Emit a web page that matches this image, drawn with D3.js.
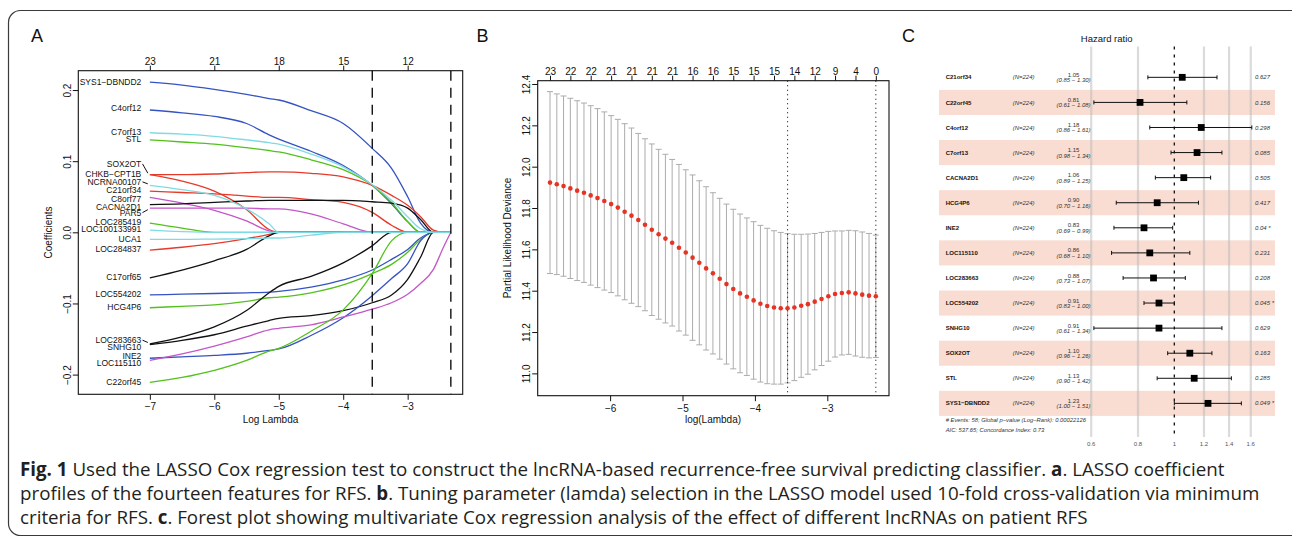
<!DOCTYPE html>
<html>
<head>
<meta charset="utf-8">
<script src="https://cdn.jsdelivr.net/npm/d3@7"></script>
<style>
  body { margin: 0; background: #fff; }
  svg { display: block; }
  text { font-family: "Liberation Sans", Arial, sans-serif; }
</style>
</head>
<body>
<svg id="fig" width="1292" height="537"></svg>
<script>
// ---------- A: LASSO coefficient paths ----------
const coefGrid = [-7, -6.5, -6, -5.5, -5.15, -5, -4.5, -4, -3.55, -3.25, -3, -2.8, -2.6, -2.45, -2.33];
const coefNames = ['SYS1\u2212DBNDD2', 'C4orf12', 'C7orf13', 'STL', 'SOX2OT', 'CHKB\u2212CPT1B',
  'NCRNA00107', 'C21orf34', 'C8orf77', 'CACNA2D1', 'PAR5', 'LOC285419', 'LOC100133991', 'UCA1',
  'LOC284837', 'C17orf65', 'LOC554202', 'HCG4P6', 'LOC283663', 'SNHG10', 'INE2', 'LOC115110', 'C22orf45'];
// where each name sits on the coefficient axis (labels spread out a bit)
const coefLabelAt = [0.2113, 0.1742, 0.1404, 0.1315, 0.0962, 0.0826, 0.0709, 0.0592, 0.0465, 0.0362,
  0.0277, 0.0146, 0.0042, -0.0089, -0.0235, -0.0624, -0.0869, -0.1056, -0.1516, -0.1615, -0.1742, -0.1836, -0.2103];
const coefRows = [
  [0.211, 0.207, 0.201, 0.194, 0.188, 0.186, 0.171, 0.153, 0.118, 0.090, 0.050, 0.013, 0, 0, 0],
  [0.172, 0.168, 0.163, 0.153, 0.137, 0.131, 0.114, 0.094, 0.066, 0.040, 0.015, 0, 0, 0, 0],
  [0.140, 0.138, 0.135, 0.130, 0.126, 0.124, 0.110, 0.092, 0.067, 0.045, 0.022, 0.005, 0, 0, 0],
  [0.130, 0.127, 0.124, 0.119, 0.115, 0.113, 0.102, 0.088, 0.066, 0.042, 0.015, 0, 0, 0, 0],
  [0.081, 0.081, 0.082, 0.084, 0.085, 0.085, 0.083, 0.078, 0.066, 0.052, 0.038, 0.022, 0.003, 0, 0],
  [0.081, 0.072, 0.058, 0.032, 0.004, 0, 0, 0, 0, 0, 0, 0, 0, 0, 0],
  [0.066, 0.060, 0.052, 0.033, 0.012, 0, 0, 0, 0, 0, 0, 0, 0, 0, 0],
  [0.058, 0.056, 0.054, 0.051, 0.049, 0.049, 0.046, 0.042, 0.028, 0.010, 0, 0, 0, 0, 0],
  [0.049, 0.041, 0.031, 0.016, 0.002, 0, 0, 0, 0, 0, 0, 0, 0, 0, 0],
  [0.039, 0.040, 0.042, 0.044, 0.045, 0.045, 0.045, 0.045, 0.043, 0.041, 0.034, 0.018, 0, 0, 0],
  [0.034, 0.034, 0.034, 0.034, 0.033, 0.033, 0.026, 0.012, 0, 0, 0, 0, 0, 0, 0],
  [0.013, 0.006, 0, 0, 0, 0, 0, 0, 0, 0, 0, 0, 0, 0, 0],
  [0.003, 0.001, 0, 0, 0, 0, 0, 0, 0, 0, 0, 0, 0, 0, 0],
  [-0.010, -0.010, -0.0095, -0.009, -0.008, -0.008, -0.004, 0, 0, 0, 0, 0, 0, 0, 0],
  [-0.025, -0.021, -0.016, -0.009, -0.003, 0, 0, 0, 0, 0, 0, 0, 0, 0, 0],
  [-0.064, -0.053, -0.040, -0.024, -0.005, 0, 0, 0, 0, 0, 0, 0, 0, 0, 0],
  [-0.088, -0.087, -0.086, -0.085, -0.084, -0.083, -0.077, -0.067, -0.053, -0.038, -0.024, -0.008, 0, 0, 0],
  [-0.106, -0.104, -0.102, -0.097, -0.092, -0.091, -0.085, -0.074, -0.058, -0.045, -0.028, -0.010, 0, 0, 0],
  [-0.157, -0.147, -0.133, -0.110, -0.085, -0.076, -0.062, -0.043, -0.019, 0, 0, 0, 0, 0, 0],
  [-0.158, -0.152, -0.144, -0.132, -0.124, -0.121, -0.117, -0.110, -0.099, -0.088, -0.066, -0.035, 0, 0, 0],
  [-0.177, -0.175, -0.173, -0.170, -0.166, -0.164, -0.145, -0.120, -0.089, -0.065, -0.044, -0.012, 0, 0, 0],
  [-0.180, -0.171, -0.160, -0.147, -0.137, -0.135, -0.130, -0.119, -0.108, -0.099, -0.087, -0.072, -0.052, -0.022, 0],
  [-0.211, -0.204, -0.194, -0.180, -0.167, -0.163, -0.139, -0.109, -0.058, -0.012, 0, 0, 0, 0, 0],
];
const coefTopAt = [-7, -6, -5, -4, -3];
const coefTopLabels = [23, 21, 18, 15, 12];
const lambdaMin = -3.549, lambda1se = -2.33;

// ---------- B: cross-validation curve ----------
const cvLambda = [-6.830, -6.736, -6.643, -6.549, -6.455, -6.361, -6.268, -6.174, -6.080, -5.986,
  -5.893, -5.799, -5.705, -5.611, -5.518, -5.424, -5.330, -5.236, -5.143, -5.049,
  -4.955, -4.861, -4.768, -4.674, -4.580, -4.486, -4.393, -4.299, -4.205, -4.111,
  -4.018, -3.924, -3.830, -3.736, -3.643, -3.549, -3.455, -3.361, -3.268, -3.174,
  -3.080, -2.986, -2.893, -2.799, -2.705, -2.611, -2.518, -2.424, -2.330];
const cvMean = [11.923, 11.915, 11.906, 11.895, 11.884, 11.874, 11.861, 11.848, 11.834, 11.819,
  11.802, 11.782, 11.763, 11.742, 11.719, 11.695, 11.673, 11.652, 11.632, 11.608,
  11.585, 11.560, 11.535, 11.508, 11.484, 11.458, 11.432, 11.408, 11.387, 11.371,
  11.353, 11.337, 11.326, 11.319, 11.315, 11.315, 11.319, 11.327, 11.335, 11.347,
  11.360, 11.373, 11.384, 11.389, 11.392, 11.387, 11.381, 11.376, 11.373];
const cvSd = [0.440, 0.437, 0.436, 0.436, 0.435, 0.434, 0.434, 0.433, 0.431, 0.428,
  0.427, 0.426, 0.424, 0.419, 0.416, 0.415, 0.411, 0.408, 0.403, 0.403,
  0.400, 0.400, 0.397, 0.395, 0.390, 0.389, 0.387, 0.386, 0.384, 0.381,
  0.381, 0.379, 0.376, 0.371, 0.367, 0.361, 0.354, 0.346, 0.339, 0.330,
  0.322, 0.314, 0.305, 0.300, 0.300, 0.303, 0.303, 0.301, 0.296];
const cvTopLabels = [23, 22, 22, 21, 21, 21, 21, 16, 16, 15, 15, 15, 14, 12, 9, 4, 0]; // every 3rd lambda
const cvYTicks = [11.0, 11.2, 11.4, 11.6, 11.8, 12.0, 12.2, 12.4];

// ---------- C: multivariate Cox forest plot ----------
const hrNames = ['C21orf34', 'C22orf45', 'C4orf12', 'C7orf13', 'CACNA2D1', 'HCG4P6', 'INE2',
  'LOC115110', 'LOC283663', 'LOC554202', 'SNHG10', 'SOX2OT', 'STL', 'SYS1\u2212DBNDD2'];
const hrEst = [1.05, 0.81, 1.18, 1.15, 1.06, 0.90, 0.83, 0.86, 0.88, 0.91, 0.91, 1.10, 1.13, 1.23];
const hrLow = [0.85, 0.61, 0.86, 0.98, 0.89, 0.70, 0.69, 0.68, 0.73, 0.83, 0.61, 0.96, 0.90, 1.00];
const hrHigh = [1.30, 1.08, 1.61, 1.34, 1.25, 1.16, 0.99, 1.10, 1.07, 1.00, 1.34, 1.26, 1.42, 1.51];
const hrP = ['0.627', '0.156', '0.298', '0.085', '0.505', '0.417', '0.04 *', '0.231', '0.208',
  '0.045 *', '0.629', '0.163', '0.285', '0.049 *'];
const hrN = 224;
const hrTicks = [0.6, 0.8, 1, 1.2, 1.4, 1.6];

// ---------- styles ----------
const pal = { black: '#111111', red: '#e63a2a', green: '#52c11c', blue: '#3553c2', cyan: '#7fdbe3', purple: '#c456c8' };
const coefColour = ['blue', 'blue', 'cyan', 'green', 'red', 'red', 'cyan', 'red', 'purple', 'black', 'purple',
  'green', 'cyan', 'cyan', 'red', 'black', 'blue', 'green', 'black', 'black', 'blue', 'purple', 'green'];

const svg = d3.select('#fig');
const fmt = d3.format('d');

// figure frame
svg.append('rect')
  .attr('x', 8.5).attr('y', 10.5)
  .attr('width', 1320).attr('height', 525)
  .attr('rx', 12)
  .attr('fill', 'none').attr('stroke', '#3a3a3a').attr('stroke-width', 1.2);

function panelLetter(x, y, s) {
  svg.append('text').attr('x', x).attr('y', y)
    .style('font-size', '18px').attr('fill', '#111').text(s);
}

// R-ish axis helpers
function bottomAxis(g, scale, ticks, y, format) {
  const a = g.append('g').attr('transform', `translate(0,${y})`)
    .call(d3.axisBottom(scale).tickValues(ticks).tickSize(5.5).tickPadding(3.3).tickFormat(format));
  a.select('.domain').remove();
  a.selectAll('text').style('font-size', '10px').attr('fill', '#111');
  a.selectAll('line').attr('stroke', '#111');
  return a;
}
function topAxis(g, scale, ticks, y, labels) {
  const a = g.append('g').attr('transform', `translate(0,${y})`)
    .call(d3.axisTop(scale).tickValues(ticks).tickSize(5).tickPadding(0.8)
      .tickFormat((d, i) => labels[i]));
  a.select('.domain').remove();
  a.selectAll('text').style('font-size', '10px').attr('fill', '#111');
  a.selectAll('line').attr('stroke', '#111');
  return a;
}
function leftAxis(g, scale, ticks, x, format, gap) {
  const a = g.append('g').attr('transform', `translate(${x},0)`)
    .call(d3.axisLeft(scale).tickValues(ticks).tickSize(5.5).tickFormat(format));
  a.select('.domain').remove();
  a.selectAll('line').attr('stroke', '#111');
  a.selectAll('text')
    .attr('x', null).attr('dy', null)
    .attr('transform', 'rotate(-90)')
    .attr('y', -gap)
    .attr('text-anchor', 'middle')
    .style('font-size', '10px').attr('fill', '#111');
  return a;
}

// ================= Panel A =================
const gA = svg.append('g');
const ax = d3.scaleLinear().domain([-8.11, -2.146]).range([78.3, 462.7]);
const ay = d3.scaleLinear().domain([-0.2277, 0.2272]).range([394.3, 70.7]);

const lineA = d3.line().x(d => ax(d[0])).y(d => ay(d[1])).curve(d3.curveMonotoneX);
// draw cyan ones last so the zero stretch looks like the original
const orderA = d3.range(coefNames.length).sort((i, j) =>
  (coefColour[i] === 'cyan') - (coefColour[j] === 'cyan'));
orderA.forEach(i => {
  gA.append('path')
    .attr('d', lineA(coefGrid.map((x, k) => [x, coefRows[i][k]])))
    .attr('fill', 'none')
    .attr('stroke', pal[coefColour[i]])
    .attr('stroke-width', 1.3);
});

// labels on the left with leader ticks when moved
coefNames.forEach((n, i) => {
  const ly = ay(coefLabelAt[i]);
  const sy = ay(coefRows[i][0]);
  gA.append('text')
    .attr('x', 141.3).attr('y', ly).attr('dy', '0.35em')
    .attr('text-anchor', 'end')
    .style('font-size', '8.5px').attr('fill', '#111')
    .text(n);
  if (Math.abs(ly - sy) > 3) {
    gA.append('line')
      .attr('x1', 142.5).attr('y1', ly)
      .attr('x2', ax(-7) - 2).attr('y2', sy - Math.sign(sy - ly) * 1.5)
      .attr('stroke', '#111').attr('stroke-width', 1);
  }
});

[lambdaMin, lambda1se].forEach(v => {
  gA.append('line')
    .attr('x1', ax(v)).attr('x2', ax(v))
    .attr('y1', ay.range()[1]).attr('y2', ay.range()[0])
    .attr('stroke', '#111').attr('stroke-width', 1.4)
    .attr('stroke-dasharray', '10,7');
});

gA.append('rect')
  .attr('x', 78.3).attr('y', 70.7).attr('width', 462.7 - 78.3).attr('height', 394.3 - 70.7)
  .attr('fill', 'none').attr('stroke', '#111').attr('stroke-width', 1.1);

bottomAxis(gA, ax, [-7, -6, -5, -4, -3], 394.3, fmt);
topAxis(gA, ax, coefTopAt, 70.7, coefTopLabels);
leftAxis(gA, ay, [-0.2, -0.1, 0, 0.1, 0.2], 78.3, d3.format('.1f'), 7.6);

gA.append('text').attr('x', 270.5).attr('y', 422.5).attr('text-anchor', 'middle')
  .style('font-size', '10px').attr('fill', '#111').text('Log Lambda');
gA.append('text').attr('transform', 'translate(52,232.5) rotate(-90)').attr('text-anchor', 'middle')
  .style('font-size', '10px').attr('fill', '#111').text('Coefficients');
panelLetter(31, 41.7, 'A');

// ================= Panel B =================
const gB = svg.append('g');
const bx = d3.scaleLinear().domain([-7.0, -2.148]).range([537.7, 889]);
const by = d3.scaleLinear().domain([10.892, 12.416]).range([395.7, 80.7]);

cvLambda.forEach((l, i) => {
  const x = bx(l);
  const hi = by(cvMean[i] + cvSd[i]);
  const lo = by(cvMean[i] - cvSd[i]);
  gB.append('line').attr('x1', x).attr('x2', x).attr('y1', hi).attr('y2', lo)
    .attr('stroke', '#acacac').attr('stroke-width', 1);
  [hi, lo].forEach(y => gB.append('line')
    .attr('x1', x - 3).attr('x2', x + 3).attr('y1', y).attr('y2', y)
    .attr('stroke', '#acacac').attr('stroke-width', 1));
});

[lambdaMin, lambda1se].forEach(v => {
  gB.append('line')
    .attr('x1', bx(v)).attr('x2', bx(v))
    .attr('y1', 80.7).attr('y2', 395.7)
    .attr('stroke', '#111').attr('stroke-width', 1.1)
    .attr('stroke-dasharray', '1,3.5');
});

gB.selectAll('circle.cv').data(cvLambda).join('circle')
  .attr('class', 'cv')
  .attr('cx', d => bx(d))
  .attr('cy', (d, i) => by(cvMean[i]))
  .attr('r', 2.3)
  .attr('fill', '#e63323');

gB.append('rect')
  .attr('x', 537.7).attr('y', 80.7).attr('width', 889 - 537.7).attr('height', 395.7 - 80.7)
  .attr('fill', 'none').attr('stroke', '#111').attr('stroke-width', 1.1);

bottomAxis(gB, bx, [-6, -5, -4, -3], 395.7, fmt);
topAxis(gB, bx, cvTopLabels.map((d, k) => cvLambda[k * 3]), 80.7, cvTopLabels);
leftAxis(gB, by, cvYTicks, 537.7, d3.format('.1f'), 7.7);

gB.append('text').attr('x', 713).attr('y', 423).attr('text-anchor', 'middle')
  .style('font-size', '10px').attr('fill', '#111').text('log(Lambda)');
gB.append('text').attr('transform', 'translate(510.5,238) rotate(-90)').attr('text-anchor', 'middle')
  .style('font-size', '10px').attr('fill', '#111').text('Partial Likelihood Deviance');
panelLetter(476.5, 41.7, 'B');

// ================= Panel C =================
const gC = svg.append('g');
const cx = d3.scaleLog().domain([0.6, 1.61]).range([1091.2, 1251.8]);
const cy = d3.scaleBand().domain(hrNames).range([64.8, 415.9]);

hrNames.forEach((n, i) => {
  if (i % 2 === 1) {
    gC.append('rect')
      .attr('x', 939).attr('y', cy(n))
      .attr('width', 336).attr('height', cy.bandwidth())
      .attr('fill', '#f9dcd2');
  }
});

hrTicks.forEach(t => {
  if (t === 1) return;
  gC.append('line')
    .attr('x1', cx(t)).attr('x2', cx(t)).attr('y1', 46.5).attr('y2', 437)
    .attr('stroke', '#b8b8b8').attr('stroke-opacity', 0.5).attr('stroke-width', 2.2);
});
gC.append('line')
  .attr('x1', cx(1)).attr('x2', cx(1)).attr('y1', 46.5).attr('y2', 438)
  .attr('stroke', '#111').attr('stroke-width', 1.3).attr('stroke-dasharray', '3,5');

hrNames.forEach((n, i) => {
  const yc = cy(n) + cy.bandwidth() / 2;
  gC.append('text').attr('x', 945.7).attr('y', yc).attr('dy', '0.35em')
    .style('font-size', '6px').style('font-weight', 'bold').attr('fill', '#111').text(n);
  gC.append('text').attr('x', 1012.7).attr('y', yc).attr('dy', '0.35em')
    .style('font-size', '6px').style('font-style', 'italic').attr('fill', '#333').text(`(N=${hrN})`);
  gC.append('text').attr('x', 1073.5).attr('y', yc - 0.4).attr('text-anchor', 'middle')
    .style('font-size', '6px').attr('fill', '#333').text(hrEst[i].toFixed(2));
  gC.append('text').attr('x', 1073.5).attr('y', yc + 5).attr('text-anchor', 'middle')
    .style('font-size', '6px').style('font-style', 'italic').attr('fill', '#333')
    .text(`(${hrLow[i].toFixed(2)} \u2212 ${hrHigh[i].toFixed(2)})`);
  gC.append('text').attr('x', 1255).attr('y', yc).attr('dy', '0.35em')
    .style('font-size', '6px').style('font-style', 'italic').attr('fill', '#333').text(hrP[i]);

  // CI + box
  gC.append('line').attr('x1', cx(hrLow[i])).attr('x2', cx(hrHigh[i])).attr('y1', yc).attr('y2', yc)
    .attr('stroke', '#111').attr('stroke-width', 1);
  [hrLow[i], hrHigh[i]].forEach(v => gC.append('line')
    .attr('x1', cx(v)).attr('x2', cx(v)).attr('y1', yc - 2).attr('y2', yc + 2)
    .attr('stroke', '#111').attr('stroke-width', 1));
  gC.append('rect')
    .attr('x', cx(hrEst[i]) - 3.4).attr('y', yc - 3.4)
    .attr('width', 6.8).attr('height', 6.8).attr('fill', '#000');
});

hrTicks.forEach(t => {
  gC.append('text').attr('x', cx(t)).attr('y', 446).attr('text-anchor', 'middle')
    .style('font-size', '6px').attr('fill', '#555').text(t);
});

gC.append('text').attr('x', 945.7).attr('y', 422).style('font-size', '5.8px').style('font-style', 'italic')
  .attr('fill', '#333').text('# Events: 58; Global p\u2212value (Log\u2212Rank): 0.00022126');
gC.append('text').attr('x', 945.7).attr('y', 431.5).style('font-size', '5.8px').style('font-style', 'italic')
  .attr('fill', '#333').text('AIC: 537.65; Concordance Index: 0.73');
gC.append('text').attr('x', 1106.7).attr('y', 41.5).attr('text-anchor', 'middle')
  .style('font-size', '9.5px').attr('fill', '#111').text('Hazard ratio');
panelLetter(902, 42, 'C');

// ================= caption =================
const captionLines = [
  [['Fig. 1', true], [' Used the LASSO Cox regression test to construct the lncRNA-based recurrence-free survival predicting classifier. ', false], ['a', true], ['. LASSO coefficient', false]],
  [['profiles of the fourteen features for RFS. ', false], ['b', true], ['. Tuning parameter (lamda) selection in the LASSO model used 10-fold cross-validation via minimum', false]],
  [['criteria for RFS. ', false], ['c', true], ['. Forest plot showing multivariate Cox regression analysis of the effect of different lncRNAs on patient RFS', false]],
];
const capBase = [476, 500, 524];
const capNodes = captionLines.map((parts, i) => {
  const t = svg.append('text').attr('x', 20).attr('y', capBase[i])
    .style('font-family', '"Open Sans", "Noto Sans", sans-serif')
    .style('font-size', '16px').attr('fill', '#231f20');
  parts.forEach(([s, b]) => t.append('tspan').style('font-weight', b ? 'bold' : 'normal').text(s));
  return t;
});
const w0 = capNodes[0].node().getComputedTextLength();
const fs = 16 * 1205 / w0;
capNodes.forEach(t => t.style('font-size', fs + 'px'));
</script>
</body>
</html>
